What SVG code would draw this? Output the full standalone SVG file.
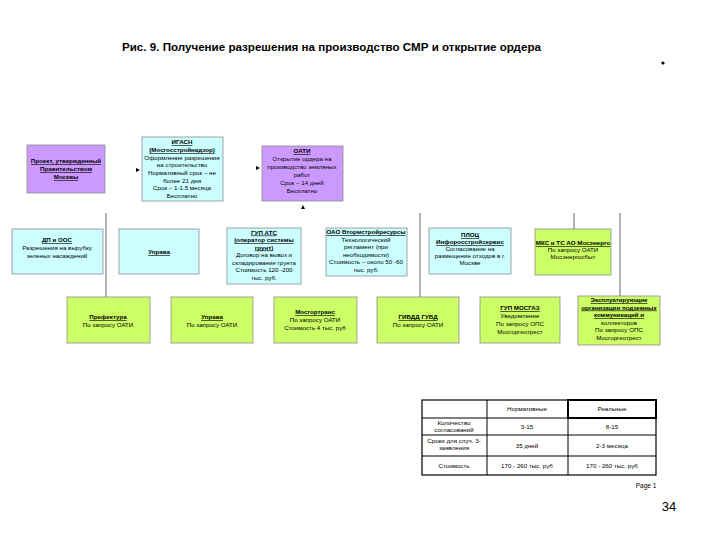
<svg xmlns="http://www.w3.org/2000/svg" width="720" height="540" viewBox="0 0 720 540">
<style>
text{font-family:"Liberation Sans",Arial,sans-serif;fill:#000;text-anchor:middle}
.t{font-size:6.2px}
.h{font-size:6.2px;font-weight:bold;text-decoration:underline}
.box{stroke:#8c8c8c;stroke-width:0.8}
.p{fill:#cc99ff}
.c{fill:#ccffff}
.g{fill:#ccff66}
.ln{stroke:#555;stroke-width:0.9;fill:none}
.tb{fill:#fff;stroke:#000;stroke-width:1.2}
</style>
<rect width="720" height="540" fill="#fff"/>
<text x="122" y="51" style="font-size:11.6px;font-weight:bold;text-anchor:start">Рис. 9. Получение разрешения на производство СМР и открытие ордера</text>
<circle cx="663" cy="63" r="1.6" fill="#000"/>

<g id="connectors">
<line class="ln" x1="106" y1="213" x2="106" y2="297"/>
<line class="ln" x1="420" y1="213" x2="420" y2="297"/>
<line class="ln" x1="574" y1="213" x2="574" y2="229"/>
<line class="ln" x1="620" y1="213" x2="620" y2="296"/>
<polygon points="136,168 140,170 136,172" fill="#000"/>
<polygon points="256,166 260,168 256,170" fill="#000"/>
<polygon points="301,209 303,205 305,209" fill="#000"/>
</g>

<g id="n_proekt">
<rect class="box p" x="27" y="145" width="78" height="48"/>
<text class="h" x="66" y="163">Проект, утвержденный</text>
<text class="h" x="66" y="171">Правительством</text>
<text class="h" x="66" y="179">Москвы</text>
</g>
<g id="n_igasn">
<rect class="box c" x="142" y="137" width="81" height="64"/>
<text class="h" x="182" y="144">ИГАСН</text>
<text class="h" x="182" y="152">(Мосгосстройнадзор)</text>
<text class="t" x="182" y="159.5">Оформление разрешения</text>
<text class="t" x="182" y="167">на строительство</text>
<text class="t" x="182" y="175">Нормативный срок – не</text>
<text class="t" x="182" y="182.5">более 21 дня</text>
<text class="t" x="182" y="190">Срок – 1-1.5 месяца</text>
<text class="t" x="182" y="198">Бесплатно</text>
</g>
<g id="n_oati">
<rect class="box p" x="262" y="146" width="81" height="55"/>
<text class="h" x="302" y="153">ОАТИ</text>
<text class="t" x="302" y="161">Открытие ордера на</text>
<text class="t" x="302" y="169">производство земляных</text>
<text class="t" x="302" y="177">работ</text>
<text class="t" x="302" y="185">Срок – 14 дней</text>
<text class="t" x="302" y="193">Бесплатно</text>
</g>

<g id="n_dpoos">
<rect class="box c" x="12" y="229" width="91" height="45"/>
<text class="h" x="57" y="242">ДП и ООС</text>
<text class="t" x="57" y="250">Разрешения на вырубку</text>
<text class="t" x="57" y="258">зеленых насаждений</text>
</g>
<g id="n_uprava1">
<rect class="box c" x="119" y="229" width="80" height="45"/>
<text class="h" x="159" y="254">Управа</text>
</g>
<g id="n_gupats">
<rect class="box c" x="227" y="228" width="74" height="56"/>
<text class="h" x="264" y="234.5">ГУП АТС</text>
<text class="h" x="264" y="242">(оператор системы</text>
<text class="h" x="264" y="249.5">грунт)</text>
<text class="t" x="264" y="257">Договор на вывоз и</text>
<text class="t" x="264" y="264.5">складирование грунта</text>
<text class="t" x="264" y="272">Стоимость 120 -200</text>
<text class="t" x="264" y="280">тыс. руб.</text>
</g>
<g id="n_oao">
<rect class="box c" x="326" y="228" width="81" height="48"/>
<text class="h" x="366" y="234">ОАО Втормстройресурсы</text>
<text class="t" x="366" y="241.5">Технологический</text>
<text class="t" x="366" y="249">регламент (при</text>
<text class="t" x="366" y="256.5">необходимости)</text>
<text class="t" x="366" y="264">Стоимость – около 50 -60</text>
<text class="t" x="366" y="271.5">тыс. руб.</text>
</g>
<g id="n_ploc">
<rect class="box c" x="429" y="228" width="82" height="46"/>
<text class="h" x="470" y="237">ПЛОЦ</text>
<text class="h" x="470" y="244">Инфоросстройсервис</text>
<text class="t" x="470" y="251">Согласование на</text>
<text class="t" x="470" y="258">размещение отходов в г.</text>
<text class="t" x="470" y="265">Москве</text>
</g>
<g id="n_mks">
<rect class="box g" x="535" y="229" width="76" height="46"/>
<text class="h" x="573" y="245">МКС и ТС АО Мосэнерго</text>
<text class="t" x="573" y="252">По запросу ОАТИ</text>
<text class="t" x="573" y="259">Мосэнергосбыт</text>
</g>

<g id="n_prefektura">
<rect class="box g" x="67" y="297" width="83" height="46"/>
<text class="h" x="108" y="319">Префектура</text>
<text class="t" x="108" y="327">По запросу ОАТИ</text>
</g>
<g id="n_uprava2">
<rect class="box g" x="171" y="297" width="82" height="46"/>
<text class="h" x="212" y="319">Управа</text>
<text class="t" x="212" y="327">По запросу ОАТИ</text>
</g>
<g id="n_mosgortrans">
<rect class="box g" x="274" y="297" width="83" height="46"/>
<text class="h" x="315" y="314">Мосгортранс</text>
<text class="t" x="315" y="322">По запросу ОАТИ</text>
<text class="t" x="315" y="330">Стоимость 4 тыс. руб</text>
</g>
<g id="n_gibdd">
<rect class="box g" x="377" y="297" width="82" height="46"/>
<text class="h" x="418" y="319">ГИБДД ГУВД</text>
<text class="t" x="418" y="327">По запросу ОАТИ</text>
</g>
<g id="n_mosgaz">
<rect class="box g" x="480" y="297" width="80" height="46"/>
<text class="h" x="520" y="310">ГУП МОСГАЗ</text>
<text class="t" x="520" y="318">Уведомление</text>
<text class="t" x="520" y="326">По запросу ОПС</text>
<text class="t" x="520" y="334">Мосгоргеотрест</text>
</g>
<g id="n_expl">
<rect class="box g" x="578" y="296" width="82" height="49"/>
<text class="h" x="619" y="302">Эксплуатирующие</text>
<text class="h" x="619" y="309.5">организации подземных</text>
<text class="h" x="619" y="317">коммуникаций и</text>
<text class="t" x="619" y="324.5">коллекторов</text>
<text class="t" x="619" y="332">По запросу ОПС</text>
<text class="t" x="619" y="339.5">Мосгоргеотрест</text>
</g>

<g id="table">
<rect class="tb" x="422" y="400" width="234" height="75"/>
<line stroke="#000" stroke-width="1" x1="487" y1="400" x2="487" y2="475"/>
<line stroke="#000" stroke-width="1" x1="568" y1="400" x2="568" y2="475"/>
<line stroke="#000" stroke-width="1" x1="422" y1="418" x2="656" y2="418"/>
<line stroke="#000" stroke-width="1" x1="422" y1="435" x2="656" y2="435"/>
<line stroke="#000" stroke-width="1" x1="422" y1="456" x2="656" y2="456"/>
<rect x="568" y="400" width="88" height="18" fill="none" stroke="#000" stroke-width="2"/>
<text class="t" x="527" y="411">Нормативные</text>
<text class="t" x="612" y="411">Реальные</text>
<text class="t" x="454" y="425">Количество</text>
<text class="t" x="454" y="432">согласований</text>
<text class="t" x="527" y="429">3-15</text>
<text class="t" x="612" y="429">8-15</text>
<text class="t" x="454" y="443">Сроки для случ. 3-</text>
<text class="t" x="454" y="450">заявления</text>
<text class="t" x="527" y="448">35 дней</text>
<text class="t" x="612" y="448">2-3 месяца</text>
<text class="t" x="454" y="468">Стоимость</text>
<text class="t" x="527" y="468">170 - 260 тыс. руб</text>
<text class="t" x="612" y="468">170 - 260 тыс. руб</text>
</g>
<text x="646" y="488" style="font-size:6.5px">Page 1</text>
<text x="669" y="511" style="font-size:13px">34</text>
</svg>
